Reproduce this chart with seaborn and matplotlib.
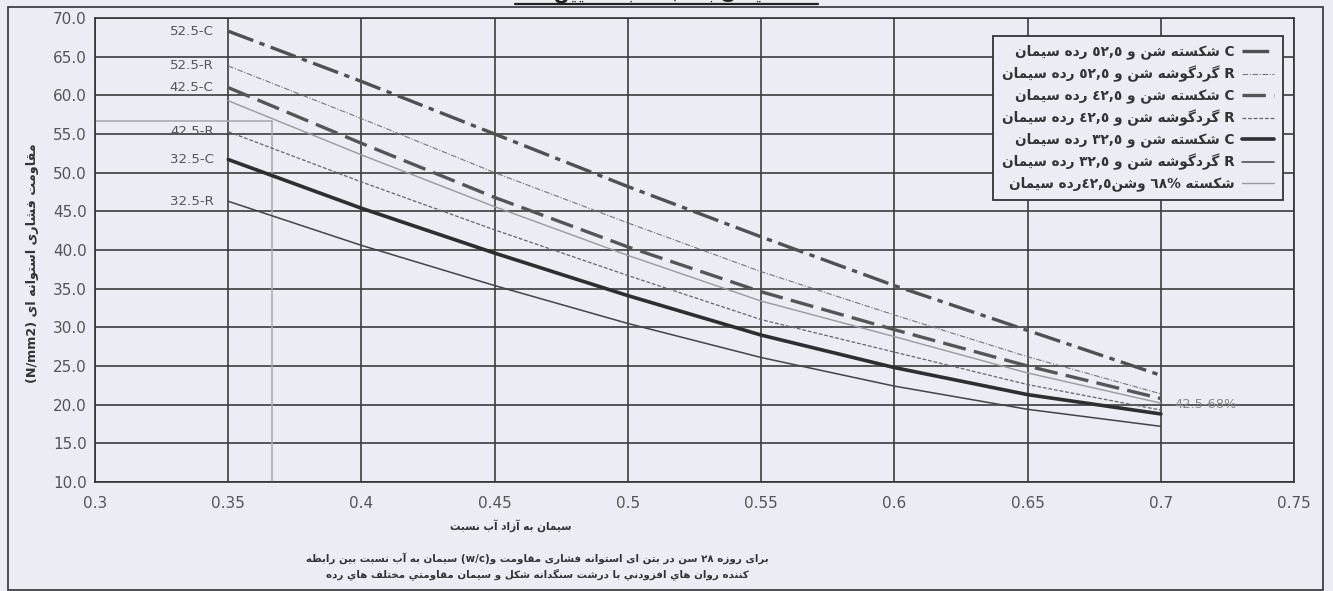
import re
import unicodedata
import pandas as pd
import seaborn as sns
import matplotlib.pyplot as plt
from matplotlib.patches import Rectangle
from matplotlib.ticker import MultipleLocator, FuncFormatter

# water / cement ratio and 28-day cylinder strength (N/mm2)
wc = [0.35, 0.40, 0.45, 0.50, 0.55, 0.60, 0.65, 0.70]
s_525_c = [68.3, 61.8, 55.0, 48.2, 41.7, 35.4, 29.6, 23.8]
s_525_r = [63.8, 57.0, 50.0, 43.5, 37.2, 31.6, 26.2, 21.4]
s_425_c = [61.0, 53.8, 46.8, 40.4, 34.6, 29.7, 25.0, 20.8]
s_425_r = [55.3, 48.8, 42.6, 36.7, 31.0, 26.8, 22.6, 19.3]
s_325_c = [51.7, 45.4, 39.6, 34.1, 29.0, 24.8, 21.3, 18.8]
s_325_r = [46.3, 40.6, 35.4, 30.5, 26.1, 22.4, 19.4, 17.2]
s_425_68 = [59.3, 52.3, 45.6, 39.3, 33.4, 28.8, 24.1, 20.2]

series_names = ['52.5-C', '52.5-R', '42.5-C', '42.5-R', '32.5-C', '32.5-R', '42.5-68%']
series_values = [s_525_c, s_525_r, s_425_c, s_425_r, s_325_c, s_325_r, s_425_68]
legend_labels = [
    'سیمان رده ٥٢,٥ و شن شکسته C',
    'سیمان رده ٥٢,٥ و شن گردگوشه R',
    'سیمان رده ٤٢,٥ و شن شکسته C',
    'سیمان رده ٤٢,٥ و شن گردگوشه R',
    'سیمان رده ٣٢,٥ و شن شکسته C',
    'سیمان رده ٣٢,٥ و شن گردگوشه R',
    'سیمان رده٤٢,٥وشن ٦٨% شکسته',
]
# reading guide drawn in light grey
guide_wc = 0.3665
guide_strength = 56.7

x_ticks = [0.3, 0.35, 0.4, 0.45, 0.5, 0.55, 0.6, 0.65, 0.7, 0.75]
y_ticks = [10, 15, 20, 25, 30, 35, 40, 45, 50, 55, 60, 65, 70]

# --- minimal arabic shaping (matplotlib has no text shaping) ---
_dual = {'ب': 0xFE8F, 'ت': 0xFE95, 'ث': 0xFE99, 'ج': 0xFE9D, 'ح': 0xFEA1, 'خ': 0xFEA5,
         'س': 0xFEB1, 'ش': 0xFEB5, 'ص': 0xFEB9, 'ض': 0xFEBD, 'ط': 0xFEC1, 'ظ': 0xFEC5,
         'ع': 0xFEC9, 'غ': 0xFECD, 'ف': 0xFED1, 'ق': 0xFED5, 'ك': 0xFED9, 'ل': 0xFEDD,
         'م': 0xFEE1, 'ن': 0xFEE5, 'ه': 0xFEE9, 'ي': 0xFEF1, '\u06cc': 0xFBFC,
         '\u06a9': 0xFB8E, '\u06af': 0xFB92, '\u067e': 0xFB56, '\u0686': 0xFB7A}
_right = {'\u0627': 0xFE8D, '\u0622': 0xFE81, 'د': 0xFEA9, 'ذ': 0xFEAB, 'ر': 0xFEAD,
          'ز': 0xFEAF, 'و': 0xFEED, '\u0698': 0xFB8A}
_letters = ''.join(_dual) + ''.join(_right)


def _shape_run(run):
    out = []
    for i, ch in enumerate(run):
        base = _dual.get(ch, _right.get(ch))
        form = (1 if i > 0 and run[i - 1] in _dual else 0) + \
               (2 if ch in _dual and i + 1 < len(run) else 0)
        out.append(chr(base + form))
    return ''.join(out)


def fa(text, rtl=False):
    text = unicodedata.normalize('NFC', text)
    tokens = re.findall(f'[{_letters}]+|\\s+|[^\\s{_letters}]+', text)
    tokens = [_shape_run(t)[::-1] if t[0] in _letters else t for t in tokens]
    if rtl:
        tokens = tokens[::-1]
    return ''.join(tokens)


bg = '#ebecf4'
sns.set_style('white')
plt.rcParams['font.family'] = ['DejaVu Sans']

df = pd.DataFrame({
    'wc': wc * len(series_names),
    'strength': sum(series_values, []),
    'series': [n for n in series_names for _ in wc],
})

palette = {'52.5-C': '#505050', '52.5-R': '#777777', '42.5-C': '#555555', '42.5-R': '#666666',
           '32.5-C': '#2e2e2e', '32.5-R': '#444444', '42.5-68%': '#9a9a9a'}
dashes = {'52.5-C': (8, 2, 1.6, 2), '52.5-R': (5, 1.5, 1, 1.5), '42.5-C': (7, 2.5),
          '42.5-R': (3, 1.5), '32.5-C': '', '32.5-R': '', '42.5-68%': ''}
sizes = {'52.5-C': 2.4, '52.5-R': 0.8, '42.5-C': 2.4, '42.5-R': 0.9,
         '32.5-C': 2.6, '32.5-R': 1.1, '42.5-68%': 1.0}

fig = plt.figure(figsize=(13.33, 5.91), dpi=100, facecolor=bg)
ax = fig.add_axes([0.0713, 0.1844, 0.8995, 0.7851], facecolor=bg)

sns.lineplot(data=df, x='wc', y='strength', hue='series', style='series', size='series',
             hue_order=series_names, style_order=series_names, size_order=series_names,
             palette=palette, dashes=dashes, sizes=sizes, legend=False, ax=ax, zorder=3)
curves = ax.lines[:len(series_names)]

ax.plot([x_ticks[0], guide_wc], [guide_strength, guide_strength], color='#a8a8a8', lw=1.1, zorder=2)
ax.plot([guide_wc, guide_wc], [y_ticks[0], guide_strength], color='#a8a8a8', lw=1.1, zorder=2)

# curve names next to the lines
for name, vals in zip(series_names, series_values):
    if name == '42.5-68%':
        ax.text(wc[-1] + 0.005, vals[-1] - 0.2, name, ha='left', va='center',
                fontsize=9.4, color='#8a8a8a')
    else:
        ax.text(wc[0] - 0.0055, vals[0], name, ha='right', va='center',
                fontsize=9.6, color='#555555')

ax.set_xlim(x_ticks[0], x_ticks[-1])
ax.set_ylim(y_ticks[0], y_ticks[-1])
ax.set_xticks(x_ticks)
ax.set_yticks(y_ticks)
ax.xaxis.set_minor_locator(MultipleLocator(0.01))
ax.yaxis.set_minor_locator(MultipleLocator(1))
ax.xaxis.set_major_formatter(FuncFormatter(lambda v, p: f'{v:g}'))
ax.yaxis.set_major_formatter(FuncFormatter(lambda v, p: f'{v:.1f}'))
ax.tick_params(which='both', direction='inout', color='#333333', labelcolor='#555555',
               labelsize=11, width=1.0)
ax.tick_params(which='major', length=10)
ax.tick_params(which='minor', length=7)
ax.tick_params(axis='y', pad=1)
ax.tick_params(axis='x', pad=5)
ax.grid(True, which='major', color='#3c3c3c', lw=1.2, zorder=1)
for sp in ax.spines.values():
    sp.set_color('#333333')
    sp.set_linewidth(1.2)
ax.set_xlabel('')
ax.set_ylabel('')

leg = ax.legend(curves, [fa(t) for t in legend_labels], loc='upper right',
                bbox_to_anchor=(0.991, 0.962), markerfirst=False, frameon=True,
                fancybox=False, edgecolor='#333333', facecolor=bg, framealpha=1,
                prop={'weight': 'bold', 'size': 9.8}, handlelength=2.4,
                handletextpad=0.5, labelspacing=0.47, borderpad=0.66, borderaxespad=0)
leg.get_frame().set_linewidth(1.3)
for t in leg.get_texts():
    t.set_color('#333333')

fig.text(33 / 1333, 1 - 263 / 591, fa('مقاومت فشاری استوانه ای (N/mm2)', rtl=True),
         rotation=90, ha='center', va='center', fontsize=9.2, weight='bold', color='#333333')
fig.text(511 / 1333, 1 - 526 / 591, fa('نسبت آب آزاد به سیمان'),
         ha='center', va='center', fontsize=7.6, weight='bold', color='#333333')
fig.text(537 / 1333, 1 - 558 / 591,
         fa('رابطه بین نسبت آب به سیمان (w/c)و مقاومت فشاری استوانه ای بتن در سن ٢٨ روزه برای'),
         ha='center', va='center', fontsize=7.4, weight='bold', color='#333333')
fig.text(537 / 1333, 1 - 574 / 591,
         fa('رده هاي مختلف مقاومتي سیمان و شکل سنگدانه درشت با افزودني هاي روان کننده'),
         ha='center', va='center', fontsize=7.4, weight='bold', color='#333333')

# title, mostly cut off by the top edge of the scan
fig.text(667 / 1333, 1 - 3 / 591, fa('تعیین نسبت آب به سیمان'), ha='center', va='bottom',
         fontsize=13, weight='bold', color='#222222')
fig.add_artist(plt.Line2D([515 / 1333, 818 / 1333], [1 - 4 / 591, 1 - 4 / 591],
                          transform=fig.transFigure, color='#222222', lw=1.6))
fig.add_artist(Rectangle((8 / 1333, 1 / 591), 1315 / 1333, 583 / 591, transform=fig.transFigure,
                         fill=False, ec='#333333', lw=1.2))

fig.savefig('out.png', dpi=100, facecolor=bg)
